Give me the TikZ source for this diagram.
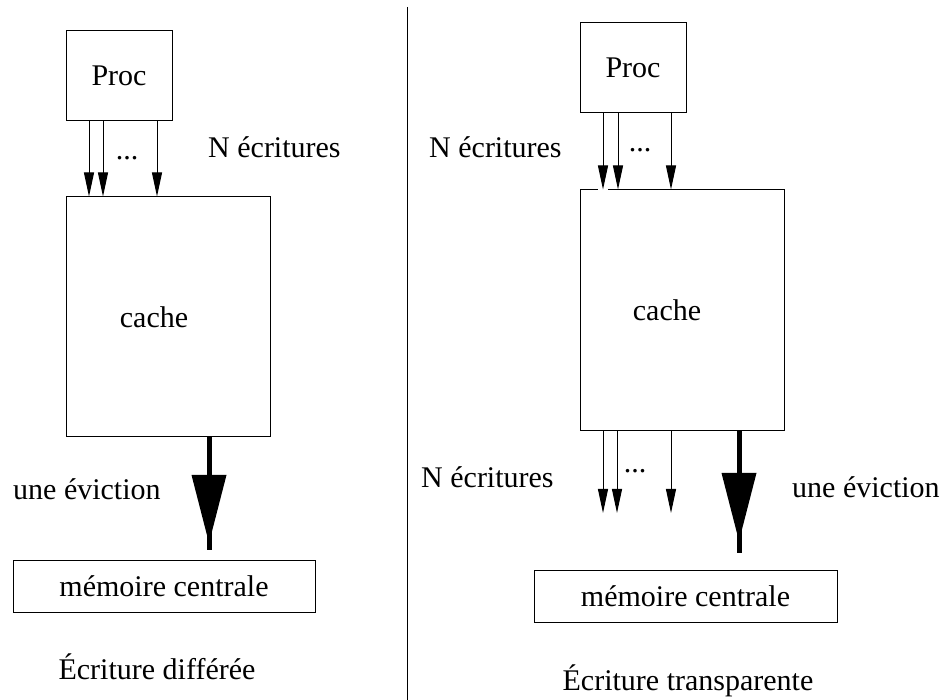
\documentclass[tikz,border=0pt]{standalone}
\usepackage{fontspec}
\setmainfont{Liberation Serif}
\usetikzlibrary{arrows.meta}
\tikzset{
  box/.style={draw, line width=1pt, inner sep=0pt},
  txt/.style={inner sep=0pt},
  wr/.style={-{Triangle[length=24pt,width=10pt]}, line width=1pt},
  evict/.style={-{Triangle[length=68pt,width=35pt,line width=0pt]}, line width=5pt},
}
\begin{document}
\begin{tikzpicture}[x=1pt, y=-1pt, font=\fontsize{30}{36}\selectfont]
  \useasboundingbox (0,0) rectangle (943,700);

  % ecriture differee
  \node[box, minimum width=106pt, minimum height=90pt] (procL) at (119,76) {Proc};
  \node[box, minimum width=204pt, minimum height=240pt,
        label={[txt, xshift=-14pt]center:cache}] (cacheL) at (168,317) {};
  \node[box, minimum width=302pt, minimum height=52pt] (memL) at (164,586) {mémoire centrale};
  \foreach \x in {89,103,157}
    \draw[wr] (procL.south -| \x,0) -- (cacheL.north -| \x,0);
  \node[txt, anchor=base] (dotsL) at (127,160) {...};
  \node[txt, anchor=base west] (nwL) at (208,158) {N écritures};
  \coordinate (evL) at (209,550);
  \draw[line width=5pt] (cacheL.south -| evL) -- (evL);
  \draw[evict] (cacheL.south -| evL) -- ([yshift=7pt]evL);
  \node[txt, anchor=base west] (unL) at (13,500) {une éviction};
  \node[txt, anchor=base] (capL) at (157,679) {Écriture différée};

  % separation
  \draw[line width=1pt] (407,7) -- (407,700);

  % ecriture transparente
  \node[box, minimum width=106pt, minimum height=90pt] (procR) at (633,68) {Proc};
  \node[box, minimum width=204pt, minimum height=241pt,
        label={[txt, xshift=-15pt]center:cache}] (cacheR) at (682,310.5) {};
  \node[box, minimum width=303pt, minimum height=52pt] (memR) at (685.5,596) {mémoire centrale};
  \draw[white, line width=2pt] (598,190) -- (608,190);
  \foreach \x in {603,618,671}
    \draw[wr] (procR.south -| \x,0) -- (cacheR.north -| \x,0);
  \node[txt, anchor=base] (dotsR) at (640,152) {...};
  \node[txt, anchor=base west] (nwR) at (429,158) {N écritures};
  \foreach \x in {603,617,671}
    \draw[wr] (cacheR.south -| \x,0) -- (\x,513);
  \node[txt, anchor=base] (dotsRb) at (635,473) {...};
  \node[txt, anchor=base west] (nwRb) at (421,488) {N écritures};
  \coordinate (evR) at (739,553);
  \draw[line width=5pt] (cacheR.south -| evR) -- (evR);
  \draw[evict] (cacheR.south -| evR) -- ([yshift=12pt]evR);
  \node[txt, anchor=base west] (unR) at (792,497) {une éviction};
  \node[txt, anchor=base] (capR) at (688,690) {Écriture transparente};
\end{tikzpicture}
\end{document}
